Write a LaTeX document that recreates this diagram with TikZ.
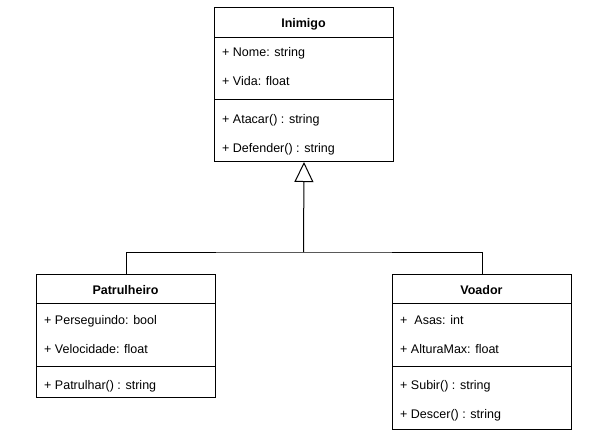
\documentclass[tikz,border=0pt]{standalone}
\usepackage{fontspec}
\setmainfont{Liberation Sans}
\usetikzlibrary{arrows.meta}
\begin{document}
\begin{tikzpicture}[x=1pt,y=-1pt,
  classbox/.style={draw, line width=1pt, anchor=north west, inner sep=0pt, minimum width=179pt},
  title/.style={font=\fontsize{12.5}{14}\selectfont\bfseries, inner sep=0pt, anchor=base},
  member/.style={font=\fontsize{12.5}{14}\selectfont, anchor=base west, inner sep=0pt},
  sep/.style={line width=1pt},
  conn/.style={line width=1pt}]
\useasboundingbox (0,0) rectangle (609,445);
% Inimigo
\node[classbox, minimum height=154pt] (ini) at (214,7) {};
\node[title] (iniT) at (303.5,27) {Inimigo};
\draw[sep] (214,37) -- (393,37);
\node[member] (ini1) at (222,56) {+ Nome: string};
\node[member] (ini2) at (222,85) {+ Vida: float};
\draw[sep] (214,99) -- (393,99);
\node[member] (ini3) at (222,123) {+ Atacar() : string};
\node[member] (ini4) at (222,152) {+ Defender() : string};
% Patrulheiro
\node[classbox, minimum height=123pt] (pat) at (36,274) {};
\node[title] (patT) at (125.5,294) {Patrulheiro};
\draw[sep] (36,303) -- (215,303);
\node[member] (pat1) at (44,324) {+ Perseguindo: bool};
\node[member] (pat2) at (44,353) {+ Velocidade: float};
\draw[sep] (36,366) -- (215,366);
\node[member] (pat3) at (44,389) {+ Patrulhar() : string};
% Voador
\node[classbox, minimum height=155pt] (voa) at (392,274) {};
\node[title] (voaT) at (481.5,294) {Voador};
\draw[sep] (392,303) -- (571,303);
\node[member] (voa1) at (400,324) {+\ \ Asas: int};
\node[member] (voa2) at (400,353) {+ AlturaMax: float};
\draw[sep] (392,366) -- (571,366);
\node[member] (voa3) at (400,389) {+ Subir() : string};
\node[member] (voa4) at (400,418) {+ Descer() : string};
% Connectors
\coordinate (j) at (303.5,252);
\draw[conn] (pat.north) |- (j) -| (voa.north);
\draw[conn, -{Triangle[open, length=20pt, width=19pt, line width=1pt]}] (j) -- (ini.south);
\end{tikzpicture}
\end{document}
